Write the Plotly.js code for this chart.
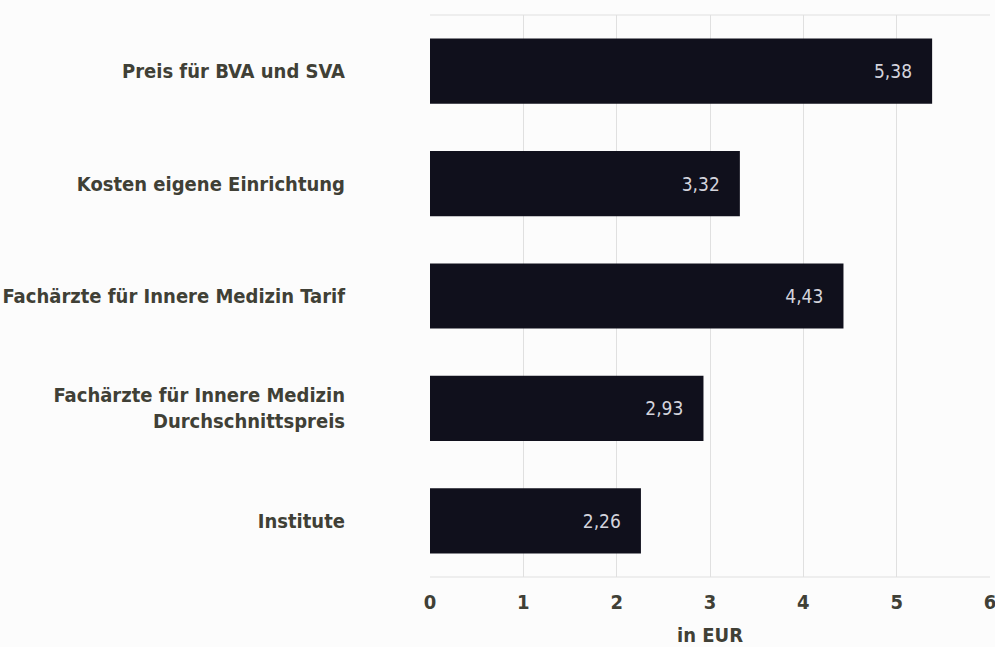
<!DOCTYPE html>
<html><head><meta charset="utf-8">
<script src="https://cdn.plot.ly/plotly-3.0.1.min.js"></script>
<style>body{margin:0;background:#fcfcfc}#c{width:995px;height:647px}</style>
</head><body><div id="c"></div>
<script>
const categories = ["Preis für BVA und SVA","Kosten eigene Einrichtung","Fachärzte für Innere Medizin Tarif","Fachärzte für Innere Medizin<br>Durchschnittspreis","Institute"];
const values = [5.38, 3.32, 4.43, 2.93, 2.26];
const valueLabels = ["5,38","3,32","4,43","2,93","2,26"];
const tickVals = [0,1,2,3,4,5,6];

const font = "DejaVu Sans Condensed, DejaVu Sans, sans-serif";
const txt = "#404036";
Plotly.newPlot("c", [{
  type: "bar", orientation: "h",
  y: categories, x: values,
  text: valueLabels.map(t => t + "\u2003"), textposition: "inside", insidetextanchor: "end",
  textfont: {color: "#d4d4dc", size: 19, family: font},
  marker: {color: "#10101c"}, width: 0.58,
  hoverinfo: "none"
}], {
  width: 995, height: 647,
  margin: {l: 430, r: 5, t: 15, b: 70},
  paper_bgcolor: "#fcfcfc", plot_bgcolor: "#fcfcfc",
  showlegend: false,
  font: {family: font, size: 20, color: txt},
  xaxis: {range: [0, 6], tickvals: tickVals, showgrid: true, gridcolor: "#e0e0e0",
          zeroline: false, showline: false, ticks: "outside", ticklen: 7, tickcolor: "rgba(0,0,0,0)",
          ticklabeloverflow: "allow",
          tickfont: {size: 20, color: txt, weight: "bold"},
          title: {text: "in EUR", font: {size: 20, color: txt, weight: "bold"}, standoff: 14},
          fixedrange: true},
  yaxis: {autorange: "reversed", showgrid: false, zeroline: false, ticks: "outside", ticklen: 80,
          tickcolor: "rgba(0,0,0,0)", tickfont: {size: 20, color: txt, weight: "bold"}},
  shapes: [
    {type: "line", xref: "paper", yref: "paper", x0: 0, x1: 1, y0: 1, y1: 1, line: {color: "#e0e0e0", width: 1}},
    {type: "line", xref: "paper", yref: "paper", x0: 0, x1: 1, y0: 0, y1: 0, line: {color: "#e0e0e0", width: 1}}
  ]
}, {displayModeBar: false, staticPlot: true});
</script></body></html>
